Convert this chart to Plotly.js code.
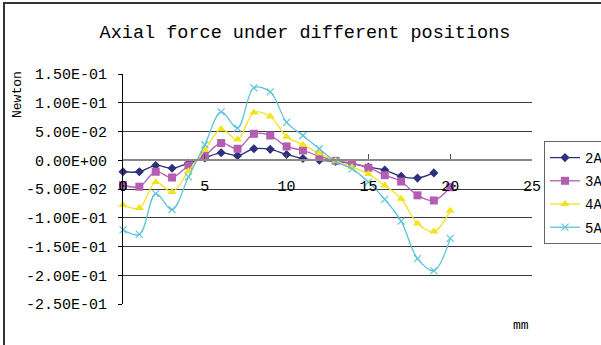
<!DOCTYPE html>
<html>
<head>
<meta charset="utf-8">
<script src="https://cdn.plot.ly/plotly-3.0.1.min.js"></script>
<style>
html,body{margin:0;padding:0;background:#fff;}
#chart{width:601px;height:345px;}
</style>
</head>
<body>
<div id="chart"></div>
<script>
// Position (mm)
var positions = [0,1,2,3,4,5,6,7,8,9,10,11,12,13,14,15,16,17,18,19,20];
// Axial force (Newton) per current
var force2A = [-0.020,-0.020,-0.009,-0.014,-0.005,0.004,0.013,0.008,0.020,0.019,0.010,0.003,0.000,-0.002,-0.006,-0.012,-0.017,-0.028,-0.031,-0.022];
var force3A = [-0.043,-0.046,-0.020,-0.030,-0.009,0.008,0.030,0.020,0.046,0.043,0.024,0.017,0.007,-0.001,-0.005,-0.013,-0.026,-0.037,-0.061,-0.070,-0.047];
var force4A = [-0.078,-0.083,-0.038,-0.055,-0.019,0.018,0.054,0.036,0.083,0.076,0.041,0.027,0.012,-0.001,-0.012,-0.024,-0.044,-0.067,-0.110,-0.124,-0.088];
var force5A = [-0.121,-0.129,-0.058,-0.086,-0.029,0.027,0.084,0.056,0.126,0.119,0.066,0.043,0.020,-0.002,-0.015,-0.038,-0.068,-0.106,-0.171,-0.192,-0.136];
var seriesNames = ["2A","3A","4A","5A"];
// Y tick labels
var yTickVals = [0.15,0.10,0.05,0,-0.05,-0.10,-0.15,-0.20,-0.25];
var yTickText = ["1.50E-01","1.00E-01","5.00E-02","0.00E+00","-5.00E-02","-1.00E-01","-1.50E-01","-2.00E-01","-2.50E-01"];
var xTickVals = [0,5,10,15,20,25];

var FONT = "Liberation Mono, DejaVu Sans Mono, monospace";
var colors = ["#2E3079","#B35DB3","#F2E31C","#5CC4DA"];
var symbols = ["diamond","square","triangle-up","x-thin-open"];
var sizes = [7,8,8,7];
var data = [force2A, force3A, force4A, force5A];

var traces = data.map(function(ys, i){
  return {
    x: positions.slice(0, ys.length),
    y: ys,
    name: seriesNames[i],
    legendgroup: seriesNames[i],
    type: "scatter",
    mode: "lines+markers",
    line: {color: colors[i], width: 1.3, shape: "spline", smoothing: 1},
    marker: {color: colors[i], symbol: symbols[i], size: sizes[i],
             line: {color: colors[i], width: i === 3 ? 1.2 : 0}},
    cliponaxis: false
  };
});

var mL = 123, mR = 69, mT = 74, mB = 41;
var pw = 601 - mL - mR, ph = 345 - mT - mB;
function px(x){ return (x - mL) / pw; }
function py(y){ return (345 - mB - y) / ph; }

var layout = {
  width: 601, height: 345,
  margin: {l: mL, r: mR, t: mT, b: mB, autoexpand: false},
  paper_bgcolor: "#fff", plot_bgcolor: "#fff",
  font: {family: FONT, color: "#000", size: 15},
  title: {text: "Axial force under different positions", font: {family: FONT, size: 18.5, color: "#000"},
          x: 305/601, xanchor: "center", y: 1 - 32/345, yanchor: "middle", xref: "container", yref: "container"},
  xaxis: {
    range: [0, 25], tickvals: xTickVals, ticktext: xTickVals.map(String),
    anchor: "free", position: (304.3 - 160.7) / 230,
    showline: true, linecolor: "#8a8a8a", linewidth: 2,
    ticks: "inside", ticklen: 5, tickcolor: "#555", tickwidth: 1,
    showgrid: false, zeroline: false, ticklabelstandoff: 12,
    tickfont: {family: FONT, size: 15, color: "#000"}
  },
  yaxis: {
    range: [-0.25, 0.15], tickvals: yTickVals, ticktext: yTickText,
    showline: true, linecolor: "#000", linewidth: 1,
    ticks: "outside", ticklen: 4, tickcolor: "#000",
    showgrid: true, gridcolor: "#3a3a3a", gridwidth: 1,
    zeroline: false, ticklabelstandoff: 8,
    tickfont: {family: FONT, size: 15, color: "#000"}
  },
  legend: {
    x: px(544), y: py(141), xanchor: "left", yanchor: "top",
    bordercolor: "#666", borderwidth: 1, bgcolor: "#fff",
    font: {family: FONT, size: 14, color: "#000"},
    tracegroupgap: 2, itemwidth: 30
  },
  showlegend: true,
  annotations: [
    {text: "Newton", xref: "paper", yref: "paper", x: px(17), y: py(95), textangle: -90,
     showarrow: false, font: {family: FONT, size: 13, color: "#000"}, xanchor: "center", yanchor: "middle"},
    {text: "mm", xref: "paper", yref: "paper", x: px(521), y: py(325),
     showarrow: false, font: {family: FONT, size: 13, color: "#000"}, xanchor: "center", yanchor: "middle"}
  ],
  shapes: [
    {type: "rect", xref: "paper", yref: "paper", x0: px(4), x1: px(640), y0: py(380), y1: py(3),
     line: {color: "#333", width: 2}, fillcolor: "rgba(0,0,0,0)", layer: "below"}
  ]
};

Plotly.newPlot("chart", traces, layout, {staticPlot: true, displayModeBar: false});
</script>
</body>
</html>
